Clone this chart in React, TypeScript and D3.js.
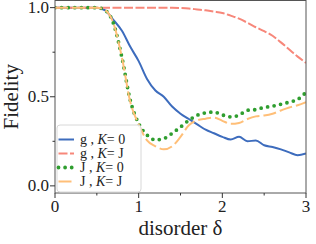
import React from 'react';
import * as d3 from 'd3';

// disorder values (x)
const delta = [0, 0.1, 0.2, 0.3, 0.4, 0.5, 0.6, 0.7, 0.8, 0.9, 1.0, 1.1, 1.2, 1.3, 1.4, 1.5,
  1.6, 1.7, 1.8, 1.9, 2.0, 2.1, 2.2, 2.3, 2.4, 2.5, 2.6, 2.7, 2.8, 2.9, 3.0];

const gK0 = [1, 1, 1, 1, 1, 1, 0.985, 0.93, 0.87, 0.78, 0.70, 0.60, 0.535, 0.50, 0.445, 0.405,
  0.375, 0.345, 0.315, 0.295, 0.275, 0.26, 0.275, 0.25, 0.255, 0.228, 0.218, 0.205, 0.188, 0.172, 0.182];
const gKJ = [1, 1, 1, 1, 1, 1, 1, 1, 1, 1, 1, 1, 1, 1, 1, 0.998,
  0.995, 0.99, 0.985, 0.978, 0.97, 0.955, 0.938, 0.915, 0.89, 0.868, 0.842, 0.805, 0.765, 0.725, 0.69];
const JK0 = [1, 1, 1, 1, 1, 1, 0.985, 0.91, 0.72, 0.48, 0.35, 0.285, 0.258, 0.265, 0.295, 0.33,
  0.368, 0.396, 0.41, 0.414, 0.398, 0.387, 0.397, 0.424, 0.428, 0.44, 0.447, 0.458, 0.47, 0.485, 0.525];
const JKJ = [1, 1, 1, 1, 1, 1, 0.985, 0.91, 0.72, 0.47, 0.345, 0.255, 0.222, 0.205, 0.222, 0.275,
  0.34, 0.368, 0.377, 0.383, 0.365, 0.348, 0.353, 0.375, 0.39, 0.395, 0.405, 0.423, 0.44, 0.452, 0.47];

const xTicks = [0, 1, 2, 3];
const xMinor = [0.5, 1.5, 2.5];
const yTicks = [0, 0.5, 1.0];
const yMinor = [0.25, 0.75];

const series = [
  { name: 'g', k: '0', values: gK0, color: '#3d6cbd', width: 2, dash: null, cap: 'butt' },
  { name: 'g', k: 'J', values: gKJ, color: '#f7877a', width: 2, dash: '9,2.5', cap: 'butt' },
  { name: 'J', k: '0', values: JK0, color: '#2f9e2f', width: 3.8, dash: '0,6.6', cap: 'round' },
  { name: 'J', k: 'J', values: JKJ, color: '#ffbf78', width: 2, dash: '13,4', cap: 'butt' },
];

const W = 316, H = 244;
const left = 55, right = 306, top = 0.5, bottom = 193;
const serif = '"Liberation Serif", "Times New Roman", serif';

export default function App() {
  const x = d3.scaleLinear().domain([0, 3]).range([left, right]);
  const y = d3.scaleLinear().domain([-0.04, 1.04]).range([bottom, top]);
  const line = d3.line<number>()
    .x((_, i) => x(delta[i]))
    .y(d => y(d))
    .curve(d3.curveMonotoneX);

  const legX = 57, legY = 125, rowH = 14;

  return (
    <svg width={W} height={H} style={{ position: 'absolute', left: 0, top: 0, background: '#fff' }}
      fontFamily={serif}>
      <defs>
        <clipPath id="plot">
          <rect x={left} y={top} width={right - left} height={bottom - top} />
        </clipPath>
      </defs>
      <g clipPath="url(#plot)">
        {series.map((s, i) => (
          <path key={i} d={line(s.values) || ''} fill="none" stroke={s.color}
            strokeWidth={s.width} strokeDasharray={s.dash || undefined} strokeLinecap={s.cap as any} />
        ))}
      </g>
      <rect x={left} y={top} width={right - left} height={bottom - top} fill="none" stroke="#555" strokeWidth={1} />

      {yTicks.map(t => (
        <g key={'y' + t}>
          <line x1={left - 5} x2={left} y1={y(t)} y2={y(t)} stroke="#333" />
          <text x={left - 6} y={y(t)} dy="0.33em" textAnchor="end" fontSize={17} fill="#222">{t.toFixed(1)}</text>
        </g>
      ))}
      {yMinor.map(t => (
        <line key={'ym' + t} x1={left - 2.5} x2={left} y1={y(t)} y2={y(t)} stroke="#333" />
      ))}
      {xTicks.map(t => (
        <g key={'x' + t}>
          <line x1={x(t)} x2={x(t)} y1={bottom} y2={bottom + 5} stroke="#333" />
          <text x={x(t)} y={bottom + 19} textAnchor="middle" fontSize={17} fill="#222">{t}</text>
        </g>
      ))}
      {xMinor.map(t => (
        <line key={'xm' + t} x1={x(t)} x2={x(t)} y1={bottom} y2={bottom + 2.5} stroke="#333" />
      ))}

      <text transform={`translate(18,${(top + bottom) / 2}) rotate(-90)`} textAnchor="middle"
        fontSize={21} fill="#222">Fidelity</text>
      <text x={(left + right) / 2} y={235} textAnchor="middle" fontSize={21} fill="#222">disorder δ</text>

      <rect x={legX} y={legY} width={84} height={67} rx={3} fill="#fff" fillOpacity={0.85} stroke="#d8d8d8" />
      {series.map((s, i) => {
        const cy = legY + 14.5 + i * rowH;
        return (
          <g key={'l' + i}>
            <line x1={legX + 1.5} x2={legX + 17} y1={cy} y2={cy} stroke={s.color} strokeWidth={s.width}
              strokeDasharray={s.dash || undefined} strokeLinecap={s.cap as any} />
            <text x={legX + 23} y={cy} dy="0.33em" fontSize={14} fill="#222" xmlSpace="preserve">
              {s.name + ' , '}<tspan fontStyle="italic">K</tspan>{'= ' + s.k}
            </text>
          </g>
        );
      })}
    </svg>
  );
}
